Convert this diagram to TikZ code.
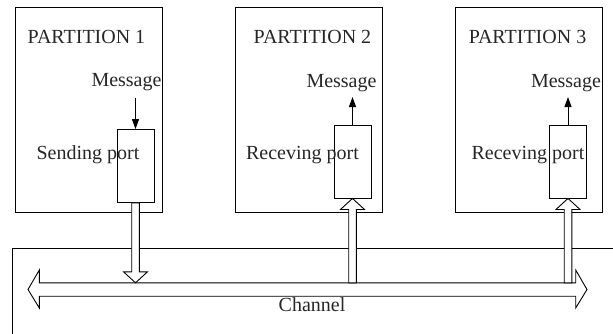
\documentclass[tikz,border=0pt]{standalone}
\usepackage{fontspec}
\setmainfont{Liberation Serif}
\usetikzlibrary{calc,arrows.meta}

\tikzset{
  partbox/.style={draw, line width=0.9pt, minimum width=147pt, minimum height=205pt, inner sep=0pt},
  portbox/.style={draw, line width=0.9pt, fill=white, minimum width=37pt, minimum height=73pt, inner sep=0pt},
  lbl/.style={inner sep=0pt, font=\fontsize{20}{24}\selectfont, text=black!85},
  msg/.style={line width=0.9pt, -{Triangle[length=10pt,width=7pt]}},
  hollow/.style={draw, line width=0.9pt, fill=white, line join=miter}
}

% hollow arrow from #1 to #2, head at #2
\newcommand{\hollowarrow}[2]{%
  \coordinate (hb) at ($(#2)!11pt!(#1)$);
  \draw[hollow] ($(#1)!3.8pt!90:(hb)$) -- ($(hb)!3.8pt!-90:(#1)$) -- ($(hb)!12pt!-90:(#1)$)
    -- (#2) -- ($(hb)!12pt!90:(#1)$) -- ($(hb)!3.8pt!90:(#1)$) -- ($(#1)!3.8pt!-90:(hb)$) -- cycle;
}

\begin{document}
\begin{tikzpicture}[x=1pt, y=-1pt]
\useasboundingbox (0,0) rectangle (613,333);

% Channel frame (cut off by the page)
\draw[line width=0.9pt] (12,340) -- (12,248) -- (620,248);

% Partitions
\node[partbox] (part1) at (88.5,109.5) {};
\node[partbox] (part2) at (308.5,109.5) {};
\node[partbox] (part3) at (528.5,109.5) {};

\node[lbl] (title1) at (86.5,37) {PARTITION 1};
\node[lbl] (title2) at (312.5,37) {PARTITION 2};
\node[lbl] (title3) at (527.5,37) {PARTITION 3};

% Ports
\node[portbox] (port1) at (135.5,166) {};
\node[portbox] (port2) at (352.5,161.5) {};
\node[portbox] (port3) at (568,161.5) {};

\node[lbl] (name1) at (88,155) {Sending port};
\node[lbl] (name2) at (302.5,155) {Receving port};
\node[lbl] (name3) at (528,155) {Receving port};

% Messages
\node[lbl] (msg1) at (126.5,82) {Message};
\node[lbl] (msg2) at (341.5,83) {Message};
\node[lbl] (msg3) at (566,83) {Message};

\coordinate (m1) at (135.5,98);
\coordinate (m2) at (352.5,97);
\coordinate (m3) at (568,97);
\draw[msg] (m1) -- (port1.north);
\draw[msg] (port2.north) -- (m2);
\draw[msg] (port3.north) -- (m3);

% Channel
\node[minimum width=536pt, minimum height=13pt, inner sep=0pt] (chan) at (307.5,289.5) {};
\coordinate (chanL) at (28,289.5);
\coordinate (chanR) at (587,289.5);
\draw[hollow] (chanL) -- (chan.north west |- 0,270) -- (chan.north west) -- (chan.north east)
  -- (chan.north east |- 0,270) -- (chanR) -- (chan.south east |- 0,308)
  -- (chan.south east) -- (chan.south west) -- (chan.south west |- 0,308) -- cycle;
\node[lbl] (chanlbl) at (312,305) {Channel};

% Port to channel
\coordinate (c1) at (port1.south |- chan.north);
\coordinate (c2) at (port2.south |- chan.north);
\coordinate (c3) at (port3.south |- chan.north);
\hollowarrow{port1.south}{c1}
\hollowarrow{c2}{port2.south}
\hollowarrow{c3}{port3.south}
\end{tikzpicture}
\end{document}
